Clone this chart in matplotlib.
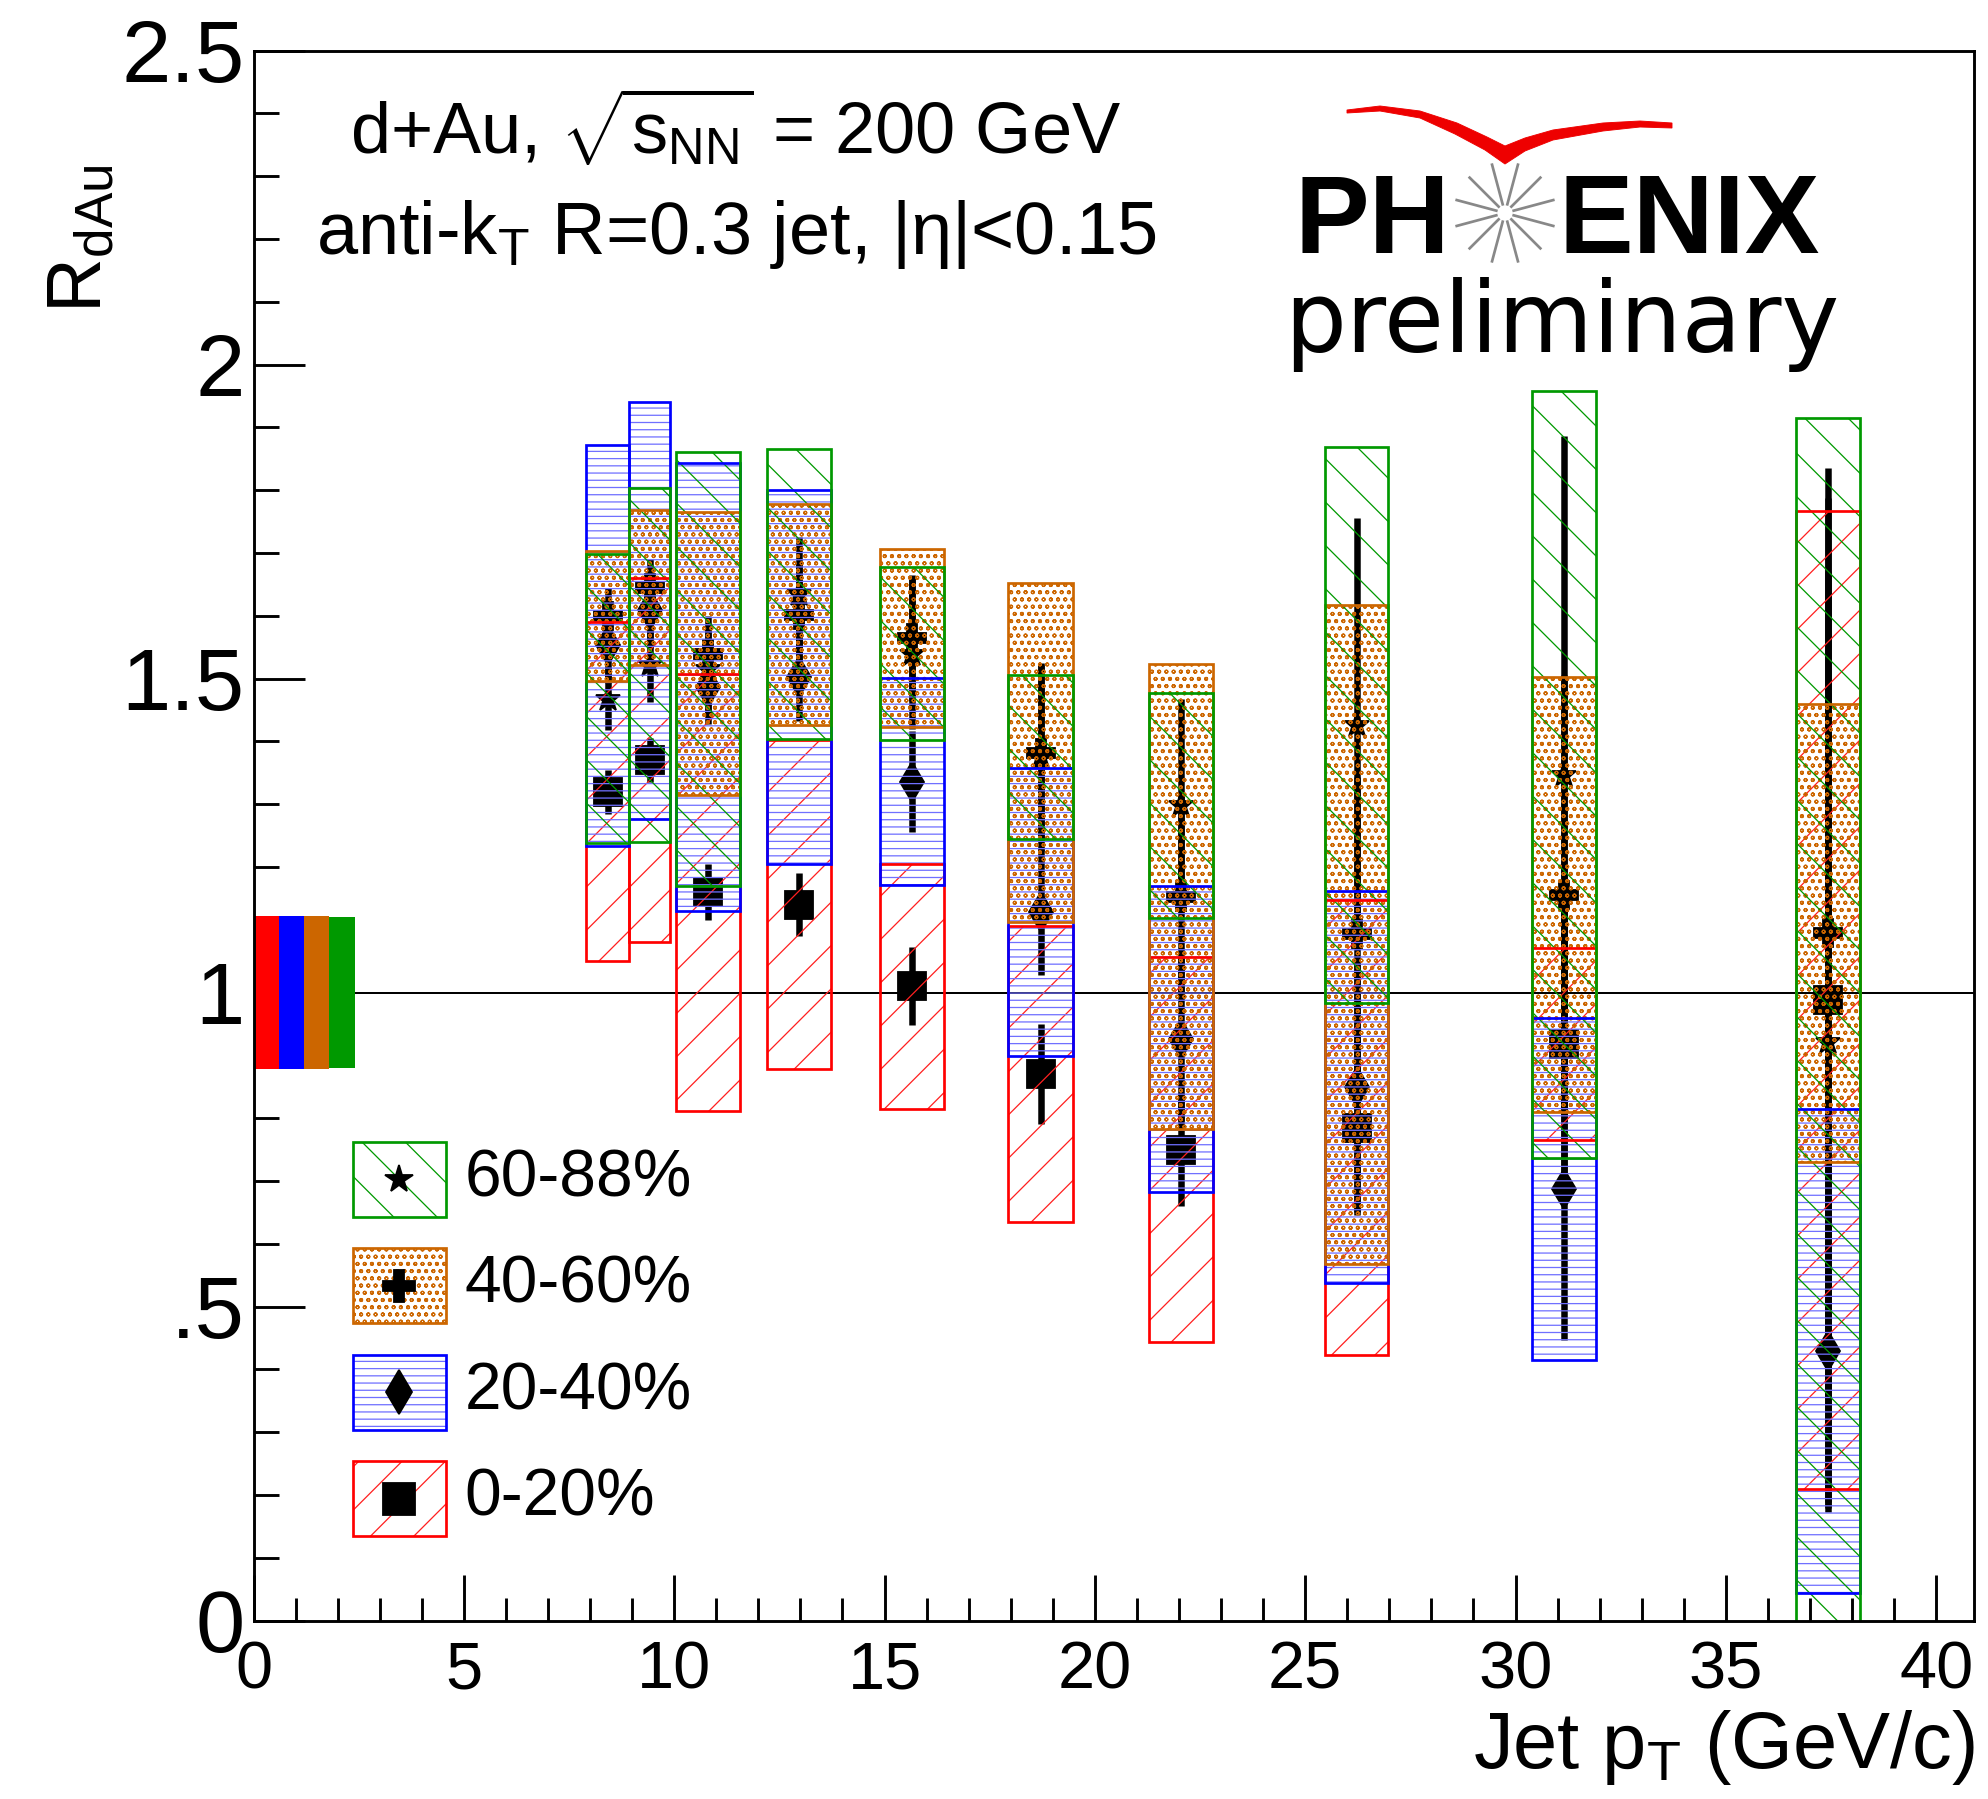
import numpy as np
import matplotlib
matplotlib.use("Agg")
import matplotlib.pyplot as plt
from matplotlib.patches import Polygon, Rectangle
from matplotlib.lines import Line2D
from matplotlib.ticker import MultipleLocator

plt.rcParams['font.family'] = ['Liberation Sans', 'DejaVu Sans']
plt.rcParams['mathtext.fontset'] = 'custom'
plt.rcParams['mathtext.rm'] = 'Liberation Sans'
plt.rcParams['mathtext.it'] = 'Liberation Sans:italic'
plt.rcParams['mathtext.bf'] = 'Liberation Sans:bold'
plt.rcParams['hatch.linewidth'] = 0.7

# jet pT bins (GeV/c) and widths of the systematic boxes
jet_pt = [8.42, 9.42, 10.8, 12.97, 15.66, 18.71, 22.04, 26.22, 31.15, 37.42]
box_width = [1.03, 0.98, 1.52, 1.52, 1.53, 1.53, 1.53, 1.50, 1.53, 1.52]

# R_dAu, statistical and systematic uncertainties per centrality class
rdau_0_20 = [1.32, 1.37, 1.16, 1.14, 1.01, 0.87, 0.75, 0.785, 0.918, 0.988]
stat_0_20 = [0.035, 0.035, 0.045, 0.05, 0.062, 0.08, 0.09, 0.14, 0.25, 0.80]
sys_0_20 = [0.27, 0.29, 0.348, 0.262, 0.195, 0.236, 0.306, 0.362, 0.153, 0.779]

rdau_20_40 = [1.553, 1.609, 1.487, 1.502, 1.336, 1.128, 0.926, 0.850, 0.687, 0.429]
stat_20_40 = [0.06, 0.06, 0.06, 0.07, 0.08, 0.10, 0.13, 0.20, 0.24, 0.25]
sys_20_40 = [0.319, 0.332, 0.357, 0.298, 0.165, 0.229, 0.243, 0.312, 0.272, 0.386]

rdau_40_60 = [1.60, 1.645, 1.54, 1.602, 1.565, 1.382, 1.153, 1.093, 1.156, 1.095]
stat_40_60 = [0.045, 0.045, 0.06, 0.08, 0.10, 0.14, 0.16, 0.25, 0.35, 0.74]
sys_40_60 = [0.104, 0.123, 0.226, 0.176, 0.142, 0.27, 0.371, 0.525, 0.346, 0.365]

rdau_60_88 = [1.468, 1.522, 1.515, 1.635, 1.54, 1.375, 1.298, 1.426, 1.347, 0.922]
stat_60_88 = [0.05, 0.06, 0.07, 0.09, 0.12, 0.15, 0.17, 0.33, 0.54, 0.75]
sys_60_88 = [0.23, 0.282, 0.346, 0.231, 0.138, 0.13, 0.179, 0.443, 0.611, 0.993]

# global normalisation uncertainty boxes at R=1 (0-20, 20-40, 40-60, 60-88)
norm_x = [0.3, 0.9, 1.5, 2.1]
norm_unc = [0.122, 0.122, 0.122, 0.120]

labels = ["0-20%", "20-40%", "40-60%", "60-88%"]
values = [rdau_0_20, rdau_20_40, rdau_40_60, rdau_60_88]
stats = [stat_0_20, stat_20_40, stat_40_60, stat_60_88]
systs = [sys_0_20, sys_20_40, sys_40_60, sys_60_88]

colors = ['#ff0000', '#0000ff', '#cc6600', '#009900']
hatch_colors = ['#ff2020', '#7070ff', '#cc6600', '#009900']
hatches = ['/', '---', 'ooo', '\\']
markers = ['s', 'd', 'P', '*']
msizes = [16, 15.5, 16, 14.5]

W, H, DPI = 1988, 1799, 130
fig = plt.figure(figsize=(W / DPI, H / DPI), dpi=DPI)
ax = fig.add_axes([253.6 / W, (H - 1620.5) / H, (1974 - 253.6) / W, (1620.5 - 50.7) / H])

ax.axhline(1.0, color='black', lw=1.1, zorder=1)

# normalisation boxes
ax.bar(norm_x, 2 * np.array(norm_unc), width=0.6, bottom=1 - np.array(norm_unc),
       color=colors, linewidth=0, zorder=2)

for i in range(4):
    val = np.array(values[i])
    sy = np.array(systs[i])
    ax.errorbar(jet_pt, val, yerr=stats[i], fmt=markers[i], ms=msizes[i],
                color='black', ecolor='black', elinewidth=3.6, capsize=0, zorder=1.5)
    ax.bar(jet_pt, 2 * sy, width=box_width, bottom=val - sy, facecolor='none',
           edgecolor=hatch_colors[i], linewidth=0, hatch=hatches[i], zorder=2)
    ax.bar(jet_pt, 2 * sy, width=box_width, bottom=val - sy, fill=False,
           edgecolor=colors[i], linewidth=1.5, zorder=2.1)

ax.set_xlim(0, 40.9)
ax.set_ylim(0, 2.5)
ax.xaxis.set_major_locator(MultipleLocator(5))
ax.xaxis.set_minor_locator(MultipleLocator(1))
ax.set_yticks([0, 0.5, 1, 1.5, 2, 2.5])
ax.set_yticklabels(['0', '.5', '1', '1.5', '2', '2.5'])
ax.yaxis.set_minor_locator(MultipleLocator(0.1))
ax.tick_params(which='both', direction='in', top=False, right=False, width=1.6, color='black')
ax.tick_params(axis='x', which='major', length=25.5, labelsize=37, pad=11)
ax.tick_params(axis='x', which='minor', length=12.7)
ax.tick_params(axis='y', which='major', length=28, labelsize=49, pad=5)
ax.tick_params(axis='y', which='minor', length=14)
for sp in ax.spines.values():
    sp.set_linewidth(1.6)

# legend, drawn by hand in axes fractions
lx, ltop, bw, bh, pitch = 0.0575, 0.305, 0.0545, 0.0478, 0.0678
for row, i in enumerate([3, 2, 1, 0]):
    y0 = ltop - row * pitch - bh
    ax.add_patch(Rectangle((lx, y0), bw, bh, transform=ax.transAxes, facecolor='none',
                           edgecolor=hatch_colors[i], linewidth=0, hatch=hatches[i], zorder=4))
    ax.add_patch(Rectangle((lx, y0), bw, bh, transform=ax.transAxes, fill=False,
                           edgecolor=colors[i], linewidth=1.5, zorder=4))
    ax.plot([lx + bw / 2], [y0 + bh / 2], marker=markers[i], ms=msizes[i] + 1.5,
            color='black', ls='none', transform=ax.transAxes, zorder=5)
    ax.text(lx + bw + 0.0105, y0 + bh / 2, labels[i], transform=ax.transAxes,
            fontsize=36.5, ha='left', va='center')


def fx(px):
    return px / W


def fy(py):
    return 1 - py / H


fig.text(fx(1975), fy(1768), r'Jet p$_{\mathrm{T}}$ (GeV/c)', fontsize=44,
         ha='right', va='baseline')
fig.text(fx(82), fy(165), r'R$_{\mathrm{dAu}}$', fontsize=42, rotation=90,
         ha='center', va='top')

fig.text(fx(736), fy(155), r'd+Au, $\sqrt{\mathrm{s}_{\mathrm{NN}}}$ = 200 GeV', fontsize=40,
         ha='center', va='baseline')
fig.text(fx(736), fy(254), r'anti-k$_{\mathrm{T}}$ R=0.3 jet, |η|<0.15', fontsize=41,
         ha='center', va='baseline')

# PHENIX logo
fig.text(fx(1450), fy(253), 'PH', fontsize=62, fontweight='bold', ha='right', va='baseline')
fig.text(fx(1558), fy(253), 'ENIX', fontsize=62, fontweight='bold', ha='left', va='baseline')
fig.text(fx(1284), fy(352), 'preliminary', fontsize=54, family='DejaVu Sans',
         ha='left', va='baseline')

cx, cy = 1505, 213
for ang in np.deg2rad(np.arange(15, 360, 30)):
    x0, y0 = cx + 9 * np.cos(ang), cy - 9 * np.sin(ang)
    x1, y1 = cx + 50 * np.cos(ang), cy - 50 * np.sin(ang)
    fig.add_artist(Line2D([fx(x0), fx(x1)], [fy(y0), fy(y1)], color='#888888',
                          lw=1.5, transform=fig.transFigure))

swoosh_top = [(1347, 110), (1380, 106), (1420, 111), (1457, 123), (1487, 137), (1505, 146),
              (1525, 138), (1553, 130), (1603, 123), (1640, 121), (1672, 123)]
swoosh_bot = [(1672, 128), (1640, 127), (1603, 131), (1553, 140), (1525, 151), (1505, 164),
              (1485, 150), (1455, 134), (1420, 118), (1380, 111), (1347, 113)]
pts = [(fx(x), fy(y)) for x, y in swoosh_top + swoosh_bot]
fig.add_artist(Polygon(pts, closed=True, facecolor='#ee0000', edgecolor='#ee0000',
                       lw=0.5, transform=fig.transFigure))

fig.savefig('out.png', dpi=DPI)
